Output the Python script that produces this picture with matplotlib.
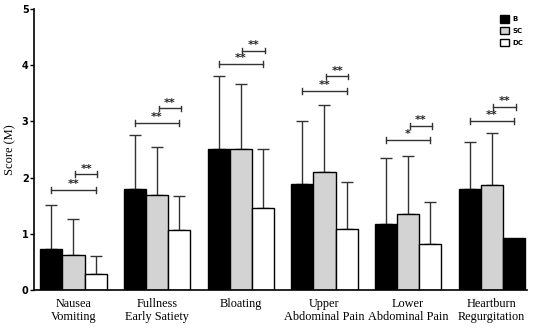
import numpy as np
import matplotlib.pyplot as plt
from matplotlib.patches import Patch

categories = ["Nausea\nVomiting", "Fullness\nEarly Satiety", "Bloating",
              "Upper\nAbdominal Pain", "Lower\nAbdominal Pain", "Heartburn\nRegurgitation"]
groups = ["B", "SC", "DC"]

# mean scores and upper error (SD)
b_mean = [0.73, 1.79, 2.51, 1.89, 1.17, 1.80]
sc_mean = [0.63, 1.69, 2.51, 2.10, 1.36, 1.87]
dc_mean = [0.29, 1.07, 1.46, 1.09, 0.82, 0.92]
b_sd = [0.78, 0.97, 1.29, 1.12, 1.17, 0.84]
sc_sd = [0.64, 0.86, 1.16, 1.19, 1.02, 0.93]
dc_sd = [0.32, 0.60, 1.04, 0.83, 0.74, 0.0]

# significance brackets: (B vs DC) height, (SC vs DC) height
sig_long_y = [1.78, 2.97, 4.02, 3.54, 2.67, 3.01]
sig_short_y = [2.06, 3.23, 4.26, 3.80, 2.92, 3.26]
sig_long_lab = ["**", "**", "**", "**", "*", "**"]
sig_short_lab = ["**", "**", "**", "**", "**", "**"]

fig = plt.figure(figsize=(5.5, 3.3), dpi=100)
ax = fig.add_axes([0.062, 0.121, 0.896, 0.852])

x = np.arange(len(categories))
w = 0.265
means = [b_mean, sc_mean, dc_mean]
sds = [b_sd, sc_sd, dc_sd]
fills = ["black", "#d3d3d3", "white"]

for i in range(3):
    colors = [fills[i]] * len(categories)
    if i == 2:
        colors[-1] = "black"  # last DC bar is drawn black in the source
    pos = x + (i - 1) * w
    ax.bar(pos, means[i], w, color=colors, edgecolor="black", linewidth=1, zorder=2)
    err = np.array(sds[i])
    ax.errorbar(pos[err > 0], np.array(means[i])[err > 0],
                yerr=[np.zeros(int((err > 0).sum())), err[err > 0]],
                fmt="none", ecolor="#333333", elinewidth=1, capsize=4, capthick=1, zorder=1)


def bracket(x1, x2, y, label):
    h = 0.05
    ax.plot([x1, x2], [y, y], color="#333333", lw=1)
    ax.plot([x1, x1], [y - h, y + h], color="#333333", lw=1)
    ax.plot([x2, x2], [y - h, y + h], color="#333333", lw=1)
    ax.text((x1 + x2) / 2, y + 0.01, label, ha="center", va="bottom", fontsize=8,
            fontweight="bold", color="#222222")


for k in range(len(categories)):
    bracket(x[k] - w, x[k] + w, sig_long_y[k], sig_long_lab[k])
    bracket(x[k] + 0.02, x[k] + w + 0.02, sig_short_y[k], sig_short_lab[k])

ax.set_xlim(-0.47, 5.42)
ax.set_ylim(0, 5)
ax.set_yticks(range(6))
ax.set_yticklabels([str(v) for v in range(6)], fontsize=7, fontweight="bold")
ax.set_xticks(x)
ax.set_xticklabels(categories, fontsize=8.8, family="Liberation Serif", linespacing=1.1)
ax.tick_params(axis="x", length=0, pad=6)
ax.tick_params(axis="y", length=3, width=1, pad=1)
ax.set_ylabel("Score (M)", fontsize=9, family="Liberation Serif", labelpad=4)
for s in ["top", "right"]:
    ax.spines[s].set_visible(False)
for s in ["left", "bottom"]:
    ax.spines[s].set_linewidth(1.2)

handles = [Patch(facecolor=f, edgecolor="black", linewidth=1) for f in fills]
ax.legend(handles, groups, loc="upper right", bbox_to_anchor=(1.005, 1.0), frameon=False,
          prop={"size": 5, "weight": "bold"}, handlelength=1.3, handleheight=1.3,
          handletextpad=0.5, labelspacing=0.6)

fig.savefig("out.png", dpi=100)
